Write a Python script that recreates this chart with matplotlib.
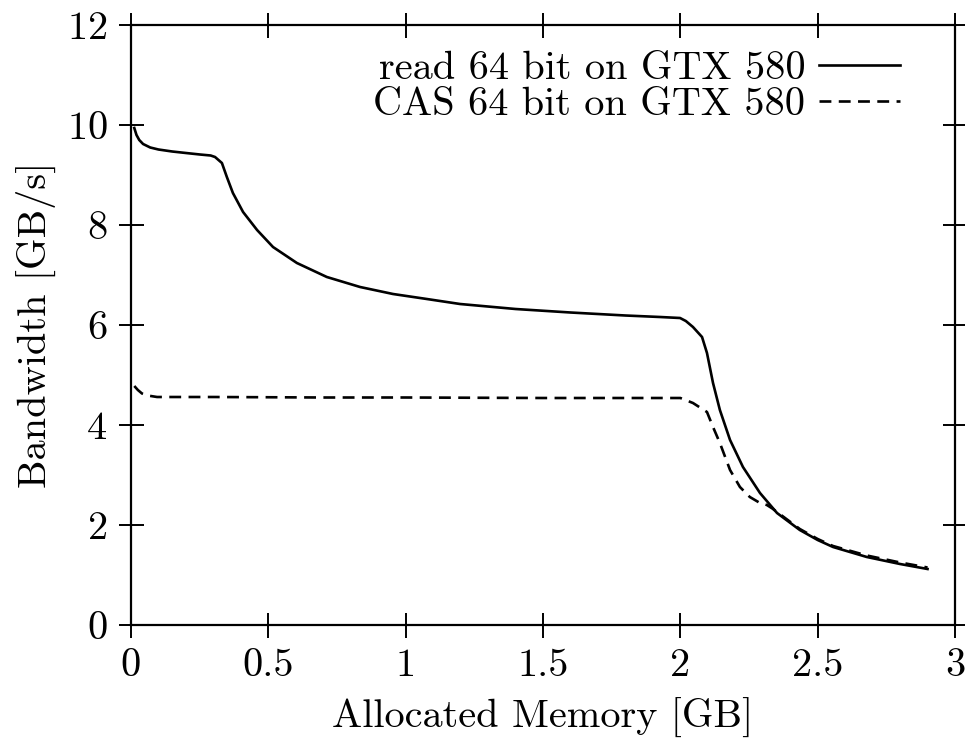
import numpy as np
import matplotlib
matplotlib.use('Agg')
from matplotlib import pyplot as plt

plt.rcParams['font.family'] = ['cmr10', 'DejaVu Serif']
plt.rcParams['axes.formatter.use_mathtext'] = True
plt.rcParams['mathtext.fontset'] = 'cm'

#  read 64 bit curve
read_mem = [0.012, 0.02, 0.03, 0.044, 0.07, 0.1, 0.15, 0.2, 0.251, 0.29, 0.306,
            0.331, 0.349, 0.371, 0.408, 0.459, 0.517, 0.604, 0.713, 0.834,
            0.954, 1.077, 1.198, 1.4, 1.6, 1.8, 1.926, 1.999, 2.02, 2.046,
            2.079, 2.097, 2.119, 2.144, 2.181, 2.228, 2.29, 2.352, 2.435,
            2.5, 2.556, 2.679, 2.8, 2.9]
read_bw = [9.94, 9.8, 9.7, 9.62, 9.55, 9.51, 9.47, 9.44, 9.41, 9.39, 9.36,
           9.24, 8.96, 8.64, 8.26, 7.9, 7.56, 7.24, 6.96, 6.76,
           6.62, 6.52, 6.42, 6.32, 6.25, 6.19, 6.16, 6.14, 6.08, 5.96,
           5.76, 5.44, 4.84, 4.3, 3.7, 3.16, 2.64, 2.24, 1.9,
           1.7, 1.56, 1.36, 1.22, 1.12]

#  CAS 64 bit curve
cas_mem = [0.012, 0.025, 0.04, 0.06, 0.095, 0.3, 0.7, 1.0, 1.5, 1.926, 2.0,
           2.046, 2.097, 2.119, 2.144, 2.181, 2.217, 2.253, 2.29, 2.315,
           2.335, 2.352, 2.435, 2.5, 2.556, 2.679, 2.8, 2.9]
cas_bw = [4.78, 4.7, 4.63, 4.59, 4.56, 4.56, 4.55, 4.55, 4.54, 4.54, 4.54,
          4.44, 4.26, 3.96, 3.64, 3.1, 2.76, 2.56, 2.44, 2.4,
          2.33, 2.26, 1.92, 1.72, 1.58, 1.39, 1.25, 1.15]

x_ticks = [0, 0.5, 1, 1.5, 2, 2.5, 3]
x_labels = ['0', '0.5', '1', '1.5', '2', '2.5', '3']
y_ticks = [0, 2, 4, 6, 8, 10, 12]

fig = plt.figure(figsize=(9.65, 7.39), dpi=100)
ax = fig.add_axes([131/965, 1 - 625/739, 824/965, 600/739])

ax.plot(read_mem, read_bw, color='black', linewidth=1.9,
        label='read 64 bit on GTX 580')
ax.plot(cas_mem, cas_bw, color='black', linewidth=1.9, dashes=(4.5, 2.8),
        label='CAS 64 bit on GTX 580')

ax.set_xlim(0, 3)
ax.set_ylim(0, 12)
ax.set_xticks(x_ticks)
ax.set_xticklabels(x_labels)
ax.set_yticks(y_ticks)
ax.tick_params(direction='inout', length=18, width=1.4, labelsize=29,
               top=True, right=True, pad=8)
for s in ax.spines.values():
    s.set_linewidth(1.6)

ax.set_xlabel('Allocated Memory [GB]', fontsize=29, labelpad=10)
ax.set_ylabel('Bandwidth [GB/s]', fontsize=29, labelpad=8)

ax.legend(loc='upper right', bbox_to_anchor=(0.933, 0.957), frameon=False,
          markerfirst=False, fontsize=29, handlelength=2.0, handletextpad=0.35,
          labelspacing=0.0, borderaxespad=0, borderpad=0)

fig.savefig('out.png', dpi=100)
